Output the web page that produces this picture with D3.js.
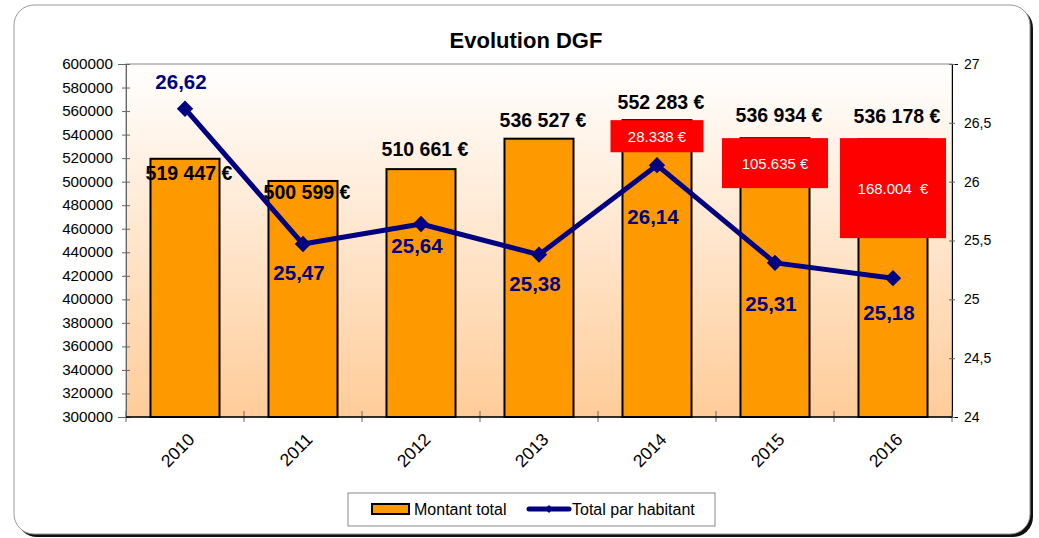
<!DOCTYPE html>
<html>
<head>
<meta charset="utf-8">
<script src="https://cdn.jsdelivr.net/npm/d3@7"></script>
<style>
  body { margin: 0; background: #fff; }
  svg { font-family: "Liberation Sans", Arial, sans-serif; }
</style>
</head>
<body>
<div id="chart"></div>
<script>
const years = ['2010', '2011', '2012', '2013', '2014', '2015', '2016'];
const montantTotal = [519447, 500599, 510661, 536527, 552283, 536934, 536178];
const totalParHabitant = [26.62, 25.47, 25.64, 25.38, 26.14, 25.31, 25.18];
const montantLabels = ['519 447 €', '500 599 €', '510 661 €', '536 527 €', '552 283 €', '536 934 €', '536 178 €'];
const habitantLabels = ['26,62', '25,47', '25,64', '25,38', '26,14', '25,31', '25,18'];
const leftTicks = d3.range(300000, 600001, 20000);
const rightTicks = [24, 24.5, 25, 25.5, 26, 26.5, 27];
// red call-outs: year, text, top and bottom in left-axis units
const callouts = [
  { year: '2014', text: '28.338 €', top: 552283, bottom: 525000 },
  { year: '2015', text: '105.635 €', top: 537000, bottom: 494500 },
  { year: '2016', text: '168.004  €', top: 537000, bottom: 452000 },
];

const width = 1039;
const height = 538;
const plot = { left: 126, right: 952, top: 64, bottom: 417 };

// label offsets (px) as placed in the original chart
const barLabelDy = [21, 18, -13, -12, -11, -16, -16];
const lineLabelDy = [-20, 36, 29, 36, 59, 48, 42];
const boxWidth = [93, 106, 106];

const svg = d3.select('#chart')
  .append('svg')
  .attr('width', width)
  .attr('height', height);

const defs = svg.append('defs');
const grad = defs.append('linearGradient')
  .attr('id', 'bg')
  .attr('x1', 0).attr('y1', 0).attr('x2', 0).attr('y2', 1);
grad.append('stop').attr('offset', '0%').attr('stop-color', '#ffffff');
grad.append('stop').attr('offset', '100%').attr('stop-color', '#ffcc99');

/* frame */
svg.append('rect')
  .attr('x', 17).attr('y', 8).attr('width', 1016).attr('height', 529)
  .attr('rx', 20).attr('fill', '#111');
svg.append('rect')
  .attr('x', 14).attr('y', 5).attr('width', 1016).attr('height', 529)
  .attr('rx', 20).attr('fill', '#fff').attr('stroke', '#999').attr('stroke-width', 1);

svg.append('text')
  .attr('x', 526).attr('y', 48)
  .attr('text-anchor', 'middle')
  .attr('font-size', 22).attr('font-weight', 'bold')
  .text('Evolution DGF');

const x = d3.scaleBand().domain(years).range([plot.left, plot.right]).paddingInner(0.415).paddingOuter(0.2075);
const step = (plot.right - plot.left) / years.length;
const cx = (yr) => x(yr) + x.bandwidth() / 2;
const yLeft = d3.scaleLinear().domain([300000, 600000]).range([plot.bottom, plot.top]);
const yRight = d3.scaleLinear().domain([24, 27]).range([plot.bottom, plot.top]);

svg.append('rect')
  .attr('x', plot.left).attr('y', plot.top)
  .attr('width', plot.right - plot.left).attr('height', plot.bottom - plot.top)
  .attr('fill', 'url(#bg)')
  .attr('stroke', '#888').attr('stroke-width', 1);

/* bars */
svg.selectAll('.bar')
  .data(years)
  .enter()
  .append('rect')
  .attr('class', 'bar')
  .attr('x', (d) => x(d))
  .attr('y', (d, i) => yLeft(montantTotal[i]))
  .attr('width', x.bandwidth())
  .attr('height', (d, i) => yLeft(300000) - yLeft(montantTotal[i]))
  .attr('fill', '#ff9900')
  .attr('stroke', '#000')
  .attr('stroke-width', 2);

/* axes */
const leftAxis = svg.append('g')
  .attr('transform', `translate(${plot.left}, 0)`)
  .call(d3.axisLeft(yLeft).tickValues(leftTicks).tickFormat(d3.format('d')).tickSize(8).tickPadding(5));
leftAxis.select('.domain').attr('stroke', '#666');
leftAxis.selectAll('.tick line').attr('stroke', '#666').attr('transform', 'translate(4,0)');
leftAxis.selectAll('text')
  .attr('font-size', 14).attr('fill', '#000')
  .attr('font-family', '"Liberation Sans", Arial, sans-serif')
  .attr('transform', 'translate(-13,0) scale(1.09,1)')
  .attr('x', 0);

const rightAxis = svg.append('g')
  .attr('transform', `translate(${plot.right}, 0)`)
  .call(d3.axisRight(yRight).tickValues(rightTicks).tickFormat((d) => String(d).replace('.', ',')).tickSize(6).tickPadding(6));
rightAxis.select('.domain').attr('stroke', '#000');
rightAxis.selectAll('.tick line').attr('stroke', '#666').attr('transform', 'translate(-3,0)');
rightAxis.selectAll('text').attr('font-size', 14).attr('fill', '#000')
  .attr('font-family', '"Liberation Sans", Arial, sans-serif');

const xTicks = d3.range(years.length + 1).map((i) => plot.left + i * step);
svg.append('g')
  .selectAll('line')
  .data(xTicks)
  .enter()
  .append('line')
  .attr('x1', (d) => d).attr('x2', (d) => d)
  .attr('y1', plot.bottom - 6).attr('y2', plot.bottom + 5)
  .attr('stroke', '#666');
svg.append('line')
  .attr('x1', plot.left).attr('x2', plot.right)
  .attr('y1', plot.bottom).attr('y2', plot.bottom)
  .attr('stroke', '#000').attr('stroke-width', 1.5);

svg.append('g')
  .selectAll('text')
  .data(years)
  .enter()
  .append('text')
  .attr('transform', (d) => `translate(${cx(d) + 2}, ${plot.bottom + 15}) rotate(-45)`)
  .attr('text-anchor', 'end')
  .attr('dy', '0.7em')
  .attr('font-size', 17.5)
  .text((d) => d);

/* bar labels */
svg.append('g')
  .selectAll('text')
  .data(years)
  .enter()
  .append('text')
  .attr('x', (d) => cx(d) + 4)
  .attr('y', (d, i) => yLeft(montantTotal[i]) + barLabelDy[i])
  .attr('text-anchor', 'middle')
  .attr('font-size', 19.5).attr('font-weight', 'bold')
  .text((d, i) => montantLabels[i]);

/* red call-outs */
const co = svg.append('g')
  .selectAll('g')
  .data(callouts)
  .enter()
  .append('g');
co.append('rect')
  .attr('x', (d, i) => cx(d.year) - boxWidth[i] / 2)
  .attr('y', (d) => yLeft(d.top))
  .attr('width', (d, i) => boxWidth[i])
  .attr('height', (d) => yLeft(d.bottom) - yLeft(d.top))
  .attr('fill', '#ff0000');
co.append('text')
  .attr('x', (d) => cx(d.year))
  .attr('y', (d) => (yLeft(d.top) + yLeft(d.bottom)) / 2 + 6)
  .attr('text-anchor', 'middle')
  .attr('font-size', 15)
  .attr('fill', '#fff')
  .style('white-space', 'pre')
  .text((d) => d.text);

/* line */
const line = d3.line()
  .x((d, i) => cx(years[i]))
  .y((d) => yRight(d));
svg.append('path')
  .datum(totalParHabitant)
  .attr('d', line)
  .attr('fill', 'none')
  .attr('stroke', '#000080')
  .attr('stroke-width', 5)
  .attr('stroke-linejoin', 'round');

svg.append('g')
  .selectAll('path')
  .data(totalParHabitant)
  .enter()
  .append('path')
  .attr('d', d3.symbol(d3.symbolDiamond2, 170))
  .attr('transform', (d, i) => `translate(${cx(years[i])}, ${yRight(d)})`)
  .attr('fill', '#000080');

svg.append('g')
  .selectAll('text')
  .data(totalParHabitant)
  .enter()
  .append('text')
  .attr('x', (d, i) => cx(years[i]) - 4)
  .attr('y', (d, i) => yRight(d) + lineLabelDy[i])
  .attr('text-anchor', 'middle')
  .attr('font-size', 20.5).attr('font-weight', 'bold')
  .attr('fill', '#000080')
  .text((d, i) => habitantLabels[i]);

/* legend */
const legend = svg.append('g').attr('transform', 'translate(348, 493)');
legend.append('rect')
  .attr('width', 367).attr('height', 33)
  .attr('fill', '#fff').attr('stroke', '#888');
legend.append('rect')
  .attr('x', 24).attr('y', 11).attr('width', 37).attr('height', 10)
  .attr('fill', '#ff9900').attr('stroke', '#000').attr('stroke-width', 2);
legend.append('text')
  .attr('x', 66).attr('y', 22)
  .attr('font-size', 16)
  .text('Montant total');
legend.append('line')
  .attr('x1', 181).attr('x2', 221).attr('y1', 16).attr('y2', 16)
  .attr('stroke', '#000080').attr('stroke-width', 5).attr('stroke-linecap', 'round');
legend.append('path')
  .attr('d', d3.symbol(d3.symbolDiamond2, 40))
  .attr('transform', 'translate(201, 16)')
  .attr('fill', '#000080');
legend.append('text')
  .attr('x', 224).attr('y', 22)
  .attr('font-size', 16)
  .text('Total par habitant');
</script>
</body>
</html>
